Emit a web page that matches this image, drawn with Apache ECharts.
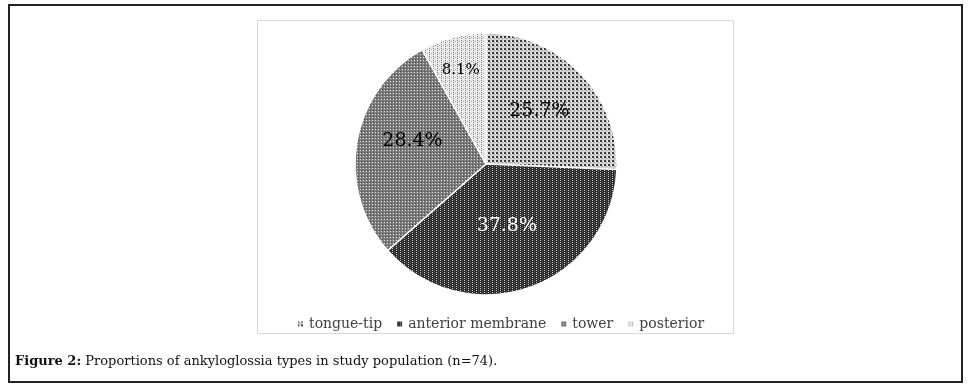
<!DOCTYPE html>
<html>
<head>
<meta charset="utf-8">
<script src="https://cdn.jsdelivr.net/npm/echarts@6/dist/echarts.min.js"></script>
<style>
  html, body { margin: 0; padding: 0; background: #fff; }
  #chart { width: 969px; height: 388px; }
</style>
</head>
<body>
<div id="chart"></div>
<script>
// data (counts out of n=74)
const categories = ['tongue-tip', 'anterior membrane', 'tower', 'posterior'];
const counts = [19, 28, 21, 6];
const total = 74;

// small fill patterns to mimic the hatched greyscale slices
const makePattern = (size, draw) => {
  const c = document.createElement('canvas');
  c.width = size;
  c.height = size;
  const ctx = c.getContext('2d');
  draw(ctx);
  return { image: c, repeat: 'repeat' };
};
const px = (ctx, color, x, y, w = 1, h = 1) => {
  ctx.fillStyle = color;
  ctx.fillRect(x, y, w, h);
};

const patterns = [
  // tongue-tip: light grey with dark dot grid
  makePattern(4, (ctx) => {
    px(ctx, '#d4d4d4', 0, 0, 4, 4);
    px(ctx, '#3a3a3a', 0, 0, 2, 2);
    px(ctx, '#8a8a8a', 2, 2);
    px(ctx, '#f4f4f4', 3, 1);
  }),
  // anterior membrane: dark with light dotted vertical lines
  makePattern(4, (ctx) => {
    px(ctx, '#2b2b2b', 0, 0, 4, 4);
    px(ctx, '#c8c8c8', 0, 0);
    px(ctx, '#c8c8c8', 0, 2);
    px(ctx, '#5a5a5a', 2, 1);
    px(ctx, '#5a5a5a', 2, 3);
  }),
  // tower: medium grey with fine white dots
  makePattern(3, (ctx) => {
    px(ctx, '#7c7c7c', 0, 0, 3, 3);
    px(ctx, '#e0e0e0', 0, 0);
    px(ctx, '#4a4a4a', 1, 2);
  }),
  // posterior: very light with grey dotted vertical lines
  makePattern(4, (ctx) => {
    px(ctx, '#ececec', 0, 0, 4, 4);
    px(ctx, '#7a7a7a', 1, 0);
    px(ctx, '#7a7a7a', 1, 2);
    px(ctx, '#a8a8a8', 3, 1);
  })
];

const labelColors = ['#000', '#fff', '#000', '#000'];
const labelSizes = [19, 19, 19, 15];
// nudges from the default inside position, to sit where the figure has them
const labelNudge = [[4, -6], [-2, -3], [-6, -11], [-8, -28]];

const serif = '"DejaVu Serif", "Liberation Serif", serif';

const chart = echarts.init(document.getElementById('chart'));

const option = {
  animation: false,
  graphic: [
    {
      type: 'rect',
      shape: { x: 9, y: 5, width: 953, height: 377 },
      style: { fill: 'none', stroke: '#222', lineWidth: 2 }
    },
    {
      type: 'rect',
      shape: { x: 257.5, y: 20.5, width: 476, height: 313 },
      style: { fill: 'none', stroke: '#d9d9d9', lineWidth: 1 }
    },
    {
      type: 'text',
      left: 15,
      top: 355,
      style: {
        text: '{b|Figure 2:} Proportions of ankyloglossia types in study population (n=74).',
        font: '13px ' + serif,
        fill: '#111',
        rich: {
          b: { fontWeight: 'bold', fontFamily: serif, fontSize: 13, fill: '#111' }
        }
      }
    }
  ],
  legend: {
    top: 312,
    left: 291,
    orient: 'horizontal',
    itemWidth: 7,
    itemHeight: 7,
    itemGap: 13,
    icon: 'rect',
    textStyle: { fontFamily: serif, fontSize: 14, color: '#404040' },
    data: categories
  },
  series: [
    {
      type: 'pie',
      center: [486, 164],
      radius: 131,
      startAngle: 90,
      clockwise: true,
      itemStyle: { borderColor: '#fff', borderWidth: 1.5 },
      label: {
        show: true,
        position: 'inside',
        fontFamily: serif,
        formatter: (p) => (p.value / total * 100).toFixed(1) + '%'
      },
      labelLine: { show: false },
      emphasis: { disabled: true },
      labelLayout: (p) => ({ dx: labelNudge[p.dataIndex][0], dy: labelNudge[p.dataIndex][1] }),
      data: categories.map((name, i) => ({
        name,
        value: counts[i],
        itemStyle: { color: patterns[i] },
        label: { color: labelColors[i], fontSize: labelSizes[i] }
      }))
    }
  ]
};

chart.setOption(option);
</script>
</body>
</html>
